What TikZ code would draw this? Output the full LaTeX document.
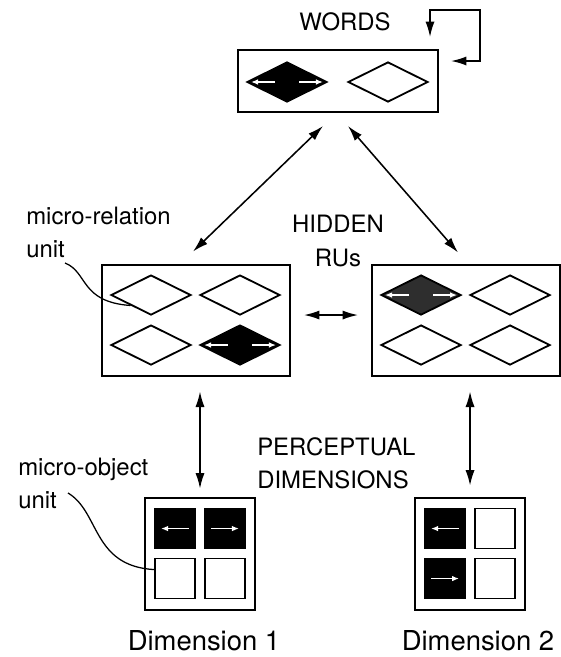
\documentclass[tikz,border=0pt]{standalone}
\usepackage{fontspec}
\setmainfont{TeX Gyre Heros}
\usepackage{tikz}
\usetikzlibrary{shapes.geometric,arrows.meta,positioning,calc}

\begin{document}
\begin{tikzpicture}[
    x=0.025cm, y=-0.025cm,
    box/.style={draw, rectangle, line width=1.4pt, inner sep=0pt},
    mru/.style={draw, diamond, line width=1.3pt, minimum width=2cm, minimum height=1cm, inner sep=0pt},
    mou/.style={draw, rectangle, line width=1.3pt, minimum size=1cm, inner sep=0pt},
    lbl/.style={font=\fontsize{17}{23.5}\selectfont, align=left, inner sep=0pt},
    dimlbl/.style={font=\fontsize{19.5}{23}\selectfont, inner sep=0pt},
    link/.style={line width=1.1pt, {Latex[length=11pt,width=6.5pt]}-{Latex[length=11pt,width=6.5pt]}},
    warrow/.style={draw=white, line width=1.1pt, -{Latex[length=5pt,width=4pt]}},
    node distance=0.3cm
]
    \useasboundingbox (0,0) rectangle (560,657);

    % Words
    \node[box, minimum width=5cm, minimum height=1.55cm] (words) at (338,81) {};
    \node[lbl] (wordsLbl) at (345,22) {WORDS};
    \node[mru, fill=black] (w1) at ($(words)+(-51,1)$) {};
    \node[mru] (w2) at ($(words)+(50,1)$) {};

    % Hidden RUs
    \node[box, minimum width=4.7cm, minimum height=2.775cm, below left=3.7625cm and -1.35cm of words] (hidA) {};
    \node[box, minimum width=4.7cm, minimum height=2.775cm, right=2cm of hidA] (hidB) {};
    \node[mru] (a11) at ($(hidA)+(-45,-25)$) {};
    \node[mru] (a12) at ($(hidA)+(44,-25)$) {};
    \node[mru] (a21) at ($(hidA)+(-45,25)$) {};
    \node[mru, fill=black] (a22) at ($(hidA)+(44,25)$) {};
    \node[mru, fill=black!82] (b11) at ($(hidB)+(-45,-25)$) {};
    \node[mru] (b12) at ($(hidB)+(44,-25)$) {};
    \node[mru] (b21) at ($(hidB)+(-45,25)$) {};
    \node[mru] (b22) at ($(hidB)+(44,25)$) {};
    \node[lbl, align=center] (hidLbl) at (338,241) {HIDDEN\\RUs};
    \node[lbl, anchor=west] (relLbl) at (26,232) {micro-relation\\unit};

    % Perceptual dimensions
    \node[box, minimum width=2.75cm, minimum height=2.8cm, below=3cm of hidA, xshift=0.1cm] (dim1) {};
    \node[box, minimum width=2.75cm, minimum height=2.8cm, below=3cm of hidB, xshift=0.1cm] (dim2) {};
    \node[mou, fill=black] (d1a) at ($(dim1)+(-25,-25)$) {};
    \node[mou, fill=black] (d1b) at ($(dim1)+(25,-25)$) {};
    \node[mou] (d1c) at ($(dim1)+(-25,25)$) {};
    \node[mou] (d1d) at ($(dim1)+(25,25)$) {};
    \node[mou, fill=black] (d2a) at ($(dim2)+(-25,-25)$) {};
    \node[mou] (d2b) at ($(dim2)+(25,-25)$) {};
    \node[mou, fill=black] (d2c) at ($(dim2)+(-25,25)$) {};
    \node[mou] (d2d) at ($(dim2)+(25,25)$) {};
    \node[lbl, anchor=west] (perLbl) at (257,463) {PERCEPTUAL\\DIMENSIONS};
    \node[lbl, anchor=west] (objLbl) at (18,483) {micro-object\\unit};
    \node[dimlbl] (dim1Lbl) at (204,641) {Dimension 1};
    \node[dimlbl] (dim2Lbl) at (478,641) {Dimension 2};

    % White arrows in active units
    \draw[warrow] ($(w1)+(-12,0)$) -- ($(w1)+(-36,0)$);
    \draw[warrow] ($(w1)+(12,0)$) -- ($(w1)+(36,0)$);
    \draw[warrow] ($(a22)+(-12,0)$) -- ($(a22)+(-36,0)$);
    \draw[warrow] ($(a22)+(12,0)$) -- ($(a22)+(36,0)$);
    \draw[warrow] ($(b11)+(-12,0)$) -- ($(b11)+(-36,0)$);
    \draw[warrow] ($(b11)+(12,0)$) -- ($(b11)+(36,0)$);
    \draw[warrow] ($(d1a)+(14,0)$) -- ($(d1a)+(-14,0)$);
    \draw[warrow] ($(d1b)+(-14,0)$) -- ($(d1b)+(14,0)$);
    \draw[warrow] ($(d2a)+(14,0)$) -- ($(d2a)+(-14,0)$);
    \draw[warrow] ($(d2c)+(-14,0)$) -- ($(d2c)+(14,0)$);

    % Connections
    \coordinate (loopIn) at ($(words.north east)+(12,12)$);
    \coordinate (loopTop) at ($(words.north east)+(41,-39)$);
    \coordinate (loopOut) at ($(words.north east)+(-9,-12)$);
    \draw[link] (loopIn) -| (loopTop) -| (loopOut);
    \draw[link] ($(words.south)+(-15,13)$) -- ($(hidA.north)+(-3,-12)$);
    \draw[link] ($(words.south)+(10,13)$) -- ($(hidB.north)+(-8,-11)$);
    \draw[link] ($(hidA.east)+(13,-5)$) -- ($(hidB.west)+(-13,-5)$);
    \draw[link] ($(hidA.south -| dim1.north)+(0,15)$) -- ($(dim1.north)+(0,-8)$);
    \draw[link] ($(hidB.south -| dim2.north)+(0,15)$) -- ($(dim2.north)+(0,-11)$);

    % Pointers
    \coordinate (relTail) at (65,263);
    \draw[line width=0.9pt] (relTail) .. controls (88,272) and (80,302) .. (a11.south west);
    \coordinate (objTail) at (68,493);
    \draw[line width=0.9pt] (objTail) .. controls (100,512) and (92,566) .. ($(d1c.west)+(0,-9)$);
\end{tikzpicture}
\end{document}
